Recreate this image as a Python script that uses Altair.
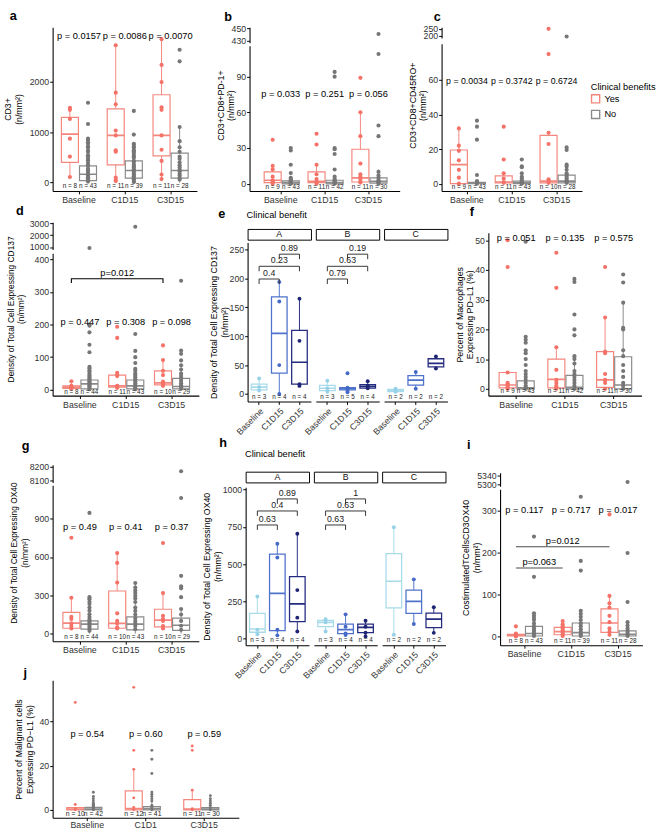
import altair as alt
import pandas as pd

FONT = "Liberation Sans"
LABC = "#333333"
RED_BOX = "#F4877D"
RED_PT = "#F57268"
GRAY_BOX = "#8A8A8A"
GRAY_PT = "#767676"
TIME_BOX = ["#A8DBEA", "#4F72CC", "#252C7F"]
TIME_PT = ["#95D2E7", "#4569C7", "#1E2574"]
NBSP = "\u00a0"
ZWSP = "\u200b"

TIMES = ["Baseline", "C1D15", "C3D15"]
TIMES_J = ["Baseline", "C1D1", "C3D15"]
FACETS = ["A", "B", "C"]

# stats rows: [q1, median, q3, whisker_low, whisker_high] per time point
# ---- a
A_YES_STATS = [[400, 960, 1290, 100, 1480], [350, 935, 1460, 30, 2720], [530, 935, 1740, 70, 2840]]
A_NO_STATS = [[40, 165, 330, 0, 800], [90, 240, 430, 0, 770], [90, 240, 585, 0, 1100]]
A_YES_PTS = [[1480, 1440, 1260, 870, 515, 110], [2720, 1780, 1550, 1030, 935, 640, 610, 100, 50, 30],
             [2840, 2330, 1990, 1490, 1440, 935, 650, 430, 160, 70]]
A_NO_PTS = [[1580, 1160, 870, 845, 800, 770, 715, 690, 630, 610, 545, 520, 470, 445, 390, 350, 330, 275, 240, 210, 165, 140, 105, 85, 45, 20],
            [1420, 950, 770, 745, 705, 690, 640, 615, 590, 545, 515, 490, 430, 410, 355, 330, 300, 265, 240, 215, 175, 150, 125, 85, 60, 30, 10],
            [2630, 2400, 1100, 820, 700, 610, 515, 470, 400, 345, 300, 255, 225, 175, 140, 95, 60]]
A_N_YES = [8, 11, 11]
A_N_NO = [43, 39, 28]
A_P = ["p = 0.0157", "p = 0.0086", "p = 0.0070"]

# ---- b
B_YES_STATS = [[1, 3, 10, 0, 15], [1, 2, 10, 0, 17], [1.5, 5, 29, 0, 60]]
B_NO_STATS = [[0, 1, 2.5, 0, 6], [0, 1, 3, 0, 7], [0.5, 2, 5, 0, 12]]
B_YES_PTS = [[37, 15, 12, 6, 3, 2, 1, 0], [42, 33, 16, 8, 4, 2, 1, 0], [89, 60, 40, 17, 8, 6, 4, 2, 1]]
B_NO_PTS = [[30, 28, 16, 9, 5, 4, 3, 2, 1, 0.5, 0], [94, 90, 30, 29, 25, 12, 6, 4, 3, 2, 1, 0],
            [441, 109, 49, 40, 10, 7, 5, 3, 2, 1, 0]]
B_N_YES = [9, 11, 11]
B_N_NO = [43, 42, 30]
B_P = ["p = 0.033", "p = 0.251", "p = 0.056"]

# ---- c
C_YES_STATS = [[0, 11, 19.5, 0, 32], [0.5, 1, 4.5, 0, 6], [0.5, 1.5, 28, 0, 29.5]]
C_NO_STATS = [[0, 0.3, 0.8, 0, 1.5], [0, 0.5, 1.5, 0, 3.5], [0.5, 1.5, 5, 0, 11]]
C_YES_PTS = [[32, 22, 19, 13.5, 8, 3.5, 0], [33, 14, 6, 3, 1, 0.5], [250, 75, 29.5, 23, 2.5, 1.5, 0.5]]
C_NO_PTS = [[36.5, 33, 25.5, 5, 1.5, 1, 0.5, 0], [14, 10, 9.5, 6, 4, 3, 2, 1, 0.5, 0],
            [195, 21, 19.5, 11, 10, 8, 6, 5, 4, 3, 2, 1, 0.5]]
C_N_YES = [9, 11, 10]
C_N_NO = [43, 43, 28]
C_P = ["p = 0.0034", "p = 0.3742", "p = 0.6724"]

# ---- d
D_YES_STATS = [[4, 8, 12, 3, 26], [8, 12, 45, 6, 52], [15, 21, 58, 12, 91]]
D_NO_STATS = [[3, 18, 30, 0, 70], [3, 12, 30, 0, 60], [3, 10, 35, 0, 75]]
D_YES_PTS = [[26, 12, 10, 8, 5, 3], [193, 159, 52, 45, 42, 12, 8, 6], [136, 91, 58, 45, 25, 20, 15, 12]]
D_NO_PTS = [[920, 200, 196, 176, 138, 115, 70, 66, 59, 55, 49, 44, 40, 35, 31, 26, 22, 18, 14, 10, 6, 2],
            [2720, 171, 119, 100, 82, 64, 58, 50, 44, 38, 32, 26, 20, 15, 10, 5, 2],
            [334, 120, 110, 90, 75, 62, 50, 42, 35, 28, 20, 14, 8, 3]]
D_N_YES = [8, 11, 10]
D_N_NO = [44, 43, 29]
D_P = ["p = 0.447", "p = 0.308", "p = 0.098"]
D_BRACKETS = [("Baseline", "C3D15", "p=0.012", 340)]

# ---- e (facets A, B, C)
E_STATS = [[[7, 12, 17, 6, 27], [36, 105, 168, 0, 194], [17, 55, 110, 14, 165]],
           [[6, 10, 15, 4, 23], [7, 9, 11, 3, 12], [10, 13, 16, 9, 22]],
           [[4, 6, 8, 3, 9], [15.5, 24, 31.7, 8, 38], [47, 53, 61, 44, 65]]]
E_PTS = [[[27, 12, 6], [194, 160, 50, 0], [165, 92, 17, 14]],
         [[23, 10, 4], [36, 11, 9, 5, 3], [22, 14, 12, 10]],
         [[9, 4], [38, 9], [65, 44]]]
E_N = [[3, 4, 4], [3, 5, 4], [2, 2, 2]]
E_BRACKETS = [[("Baseline", "C1D15", "0.4", 199), ("Baseline", "C3D15", "0.23", 221), ("C1D15", "C3D15", "0.89", 242)],
              [("Baseline", "C1D15", "0.79", 199), ("Baseline", "C3D15", "0.63", 221), ("C1D15", "C3D15", "0.19", 242)],
              []]

# ---- f
F_YES_STATS = [[0.3, 1.3, 5.5, 0, 5.5], [0.3, 3.2, 10, 0, 14], [0.5, 3, 12.5, 0, 24]]
F_NO_STATS = [[0, 0.3, 2.7, 0, 6], [0, 0.5, 4.5, 0, 11], [0, 1.3, 10.8, 0, 29]]
F_YES_PTS = [[50, 41, 5.5, 2, 1.5, 1, 0.5, 0], [45.8, 34, 14, 6.4, 3, 2, 1, 0.5, 0], [41, 24, 12.5, 12, 5, 3, 2, 0]]
F_NO_PTS = [[49.5, 17.5, 16.5, 15.5, 13, 12, 10, 8, 6, 5, 4, 3, 2, 1, 0.5, 0],
            [37, 36, 25, 20, 18, 11, 10, 8.5, 6, 5, 4, 3, 2, 1, 0],
            [38.5, 35.8, 29, 20.5, 20, 13, 11, 8, 6, 4, 2, 1, 0]]
F_N_YES = [9, 11, 11]
F_N_NO = [43, 42, 30]
F_P = ["p = 0.051", "p = 0.135", "p = 0.575"]

# ---- g
G_YES_STATS = [[42, 82, 167, 40, 281], [42, 80, 334, 40, 631], [53, 106, 191, 40, 318]]
G_NO_STATS = [[35, 75, 100, 0, 286], [30, 75, 132, 0, 397], [25, 66, 122, 0, 193]]
G_YES_PTS = [[751, 281, 132, 115, 80, 60, 40], [631, 554, 400, 159, 100, 80, 50, 40], [710, 318, 140, 115, 100, 60, 40]]
G_NO_PTS = [[946, 286, 270, 250, 232, 205, 180, 152, 130, 110, 96, 84, 70, 56, 40, 22],
            [397, 362, 338, 318, 296, 276, 248, 205, 178, 150, 122, 100, 80, 60, 35],
            [8168, 1063, 453, 371, 355, 286, 193, 150, 100, 62, 30]]
G_N_YES = [8, 10, 10]
G_N_NO = [44, 43, 29]
G_P = ["p = 0.49", "p = 0.41", "p = 0.37"]

# ---- h (facets A, B, C)
H_STATS = [[[43, 65, 170, 30, 283], [54, 304, 567, 22, 637], [115, 233, 417, 48, 704]],
           [[80, 109, 122, 48, 130], [33, 61, 98, 25, 163], [40, 76, 98, 15, 120]],
           [[207, 385, 570, 26, 748], [170, 250, 326, 98, 398], [74, 131, 172, 39, 211]]]
H_PTS = [[[283, 60, 30], [637, 545, 60, 22], [704, 326, 141, 48]],
         [[130, 110, 48], [163, 80, 35, 25], [120, 80, 40, 15]],
         [[748, 26], [398, 98], [211, 39]]]
H_N = [[3, 4, 4], [3, 4, 4], [2, 2, 2]]
H_BRACKETS = [[("Baseline", "C1D15", "0.63", 763), ("Baseline", "C3D15", "0.4", 857), ("C1D15", "C3D15", "0.89", 938)],
              [("Baseline", "C1D15", "0.63", 763), ("Baseline", "C3D15", "0.63", 857), ("C1D15", "C3D15", "1", 938)],
              []]

# ---- i
I_YES_STATS = [[2, 4, 6, 0, 9], [5, 12.5, 22.5, 0, 37.5], [10.8, 33, 66.7, 0, 97.5]]
I_NO_STATS = [[2, 8, 25, 0, 56], [2, 10, 33, 0, 62.5], [2, 6, 14, 0, 35]]
I_YES_PTS = [[25, 8, 5, 3, 2, 1], [37.5, 30, 25, 20, 15, 12, 10, 5, 2], [292, 97.5, 80, 70, 50, 35, 20, 12, 5]]
I_NO_PTS = [[239, 143, 56, 50, 45, 40, 32, 25, 20, 15, 10, 5, 2],
            [334, 181, 158, 62, 55, 48, 40, 32, 25, 18, 12, 6, 2],
            [5311, 200, 83, 35, 27, 20, 15, 10, 6, 2]]
I_N_YES = [8, 11, 11]
I_N_NO = [43, 39, 28]
I_P = ["p = 0.117", "p = 0.717", "p = 0.017"]
I_BRACKETS = [("Baseline", "C1D15", "p=0.063", 164), ("Baseline", "C3D15", "p=0.012", 215)]

# ---- j
J_YES_STATS = [[0, 0.3, 1, 0, 1], [0, 0.5, 8.6, 0, 18.3], [0, 0.3, 4.6, 0, 8.9]]
J_NO_STATS = [[0, 0.3, 1.1, 0, 2.7], [0, 0.5, 1.4, 0, 3.5], [0, 0.3, 1, 0, 2.5]]
J_YES_PTS = [[48.6, 2.4, 0.5, 0], [55.4, 26.9, 18.3, 5.4, 1, 0], [28.9, 26.9, 8.9, 0.5, 0]]
J_NO_PTS = [[7.9, 6, 5, 4, 3, 2.5, 2, 1.5, 1, 0.5, 0], [26.9, 22.9, 16.4, 8, 7, 6, 5, 4, 2, 1, 0],
            [6.4, 5, 4, 3, 2, 1, 0]]
J_N_YES = [10, 12, 11]
J_N_NO = [42, 41, 30]
J_P = ["p = 0.54", "p = 0.60", "p = 0.59"]


def xscale(times, width, step, band):
    pi = 1 - band / step
    po = (width / step - len(times) + pi) / 2
    return alt.Scale(domain=times, paddingInner=pi, paddingOuter=max(po, 0))


def yaxis(ticks, title_y=None, title_fs=9, title_pad=0):
    kw = dict(values=ticks, format="d", grid=False, domainColor="black", domainWidth=1.1, tickColor="black",
              tickSize=3, tickWidth=1, labelColor=LABC, labelFontSize=9, labelPadding=1,
              titleFontSize=title_fs, titleFontWeight="normal", titleColor="black", titlePadding=title_pad)
    if title_y is not None:
        kw["titleY"] = title_y
    return alt.Axis(**kw)


def xaxis(angle=0, fs=9, label_pad=2):
    kw = dict(grid=False, domainColor="black", domainWidth=1.1, tickColor="black", tickSize=3,
              labelColor=LABC, labelFontSize=fs, labelPadding=label_pad)
    if angle:
        kw.update(labelAngle=angle, labelAlign="right", labelBaseline="top")
    else:
        kw.update(labelAngle=0)
    return alt.Axis(**kw)


def ptitle(letter, offset, dx):
    return alt.TitleParams(letter, anchor="start", fontSize=13, fontWeight="bold", offset=offset, dx=dx,
                           color="black")


def spacer(width, height):
    return alt.Chart(pd.DataFrame({"s": [0]})).mark_point(opacity=0).encode(
        opacity=alt.value(0)).properties(width=width, height=height)


def bracket_frames(brs, times, drop):
    lines, texts = [], []
    for k, (t1, t2, lab, y) in enumerate(brs):
        seq = [(t1, y - drop), (t1, y), (t2, y), (t2, y - drop)] if drop else [(t1, y), (t2, y)]
        for o, (t, yy) in enumerate(seq):
            lines.append(dict(bid=k, ord=o, time=t, y=yy, group="Yes"))
        i1, i2 = times.index(t1), times.index(t2)
        if (i1 + i2) % 2 == 0:
            texts.append(dict(time=times[(i1 + i2) // 2], lab=lab, y=y, half=0, group="Yes"))
        else:
            texts.append(dict(time=times[i1], lab=lab, y=y, half=1, group="Yes"))
    return pd.DataFrame(lines), pd.DataFrame(texts)


def group_panel(times, ystats, nstats, ypts, npts, nyes, nno, width, height, step, band, ydom, yticks,
                ytitle, plabs, plab_y, top=None, brackets=None, drop=0, legend=None, title_y=None,
                ptsize=18, nsize=6.5, psize=9.5, title_fs=9, bline_col="black", title_pad=0, xlab_pad=2):
    ny = ydom[0] + 0.028 * (ydom[1] - ydom[0])
    brows = []
    for grp, stats, ns, col in (("Yes", ystats, nyes, RED_BOX), ("No", nstats, nno, GRAY_BOX)):
        for t, s, n in zip(times, stats, ns):
            brows.append(dict(time=t, group=grp, q1=s[0], med=s[1], q3=s[2], lo=s[3], hi=s[4],
                              nlab=f"n = {n}", ny=ny, bcol=col))
    box = pd.DataFrame(brows)
    prows = []
    for grp, pts_, col in (("Yes", ypts, RED_PT), ("No", npts, GRAY_PT)):
        for t, vals in zip(times, pts_):
            for v in vals:
                prows.append(dict(time=t, group=grp, value=v, pcol=col))
    pts = pd.DataFrame(prows)
    xs = xscale(times, width, step, band)
    X = alt.X("time:N", scale=xs, axis=xaxis(label_pad=xlab_pad), title=None, sort=times)
    XO = alt.XOffset("group:N", scale=alt.Scale(domain=["Yes", "No"], paddingInner=0.06, paddingOuter=0),
                     sort=["Yes", "No"])
    ysc = alt.Scale(domain=ydom, nice=False, zero=False)
    yax = yaxis(yticks, title_y, title_fs, title_pad)

    def Y(f):
        return alt.Y(f, scale=ysc, axis=yax, title=ytitle)

    if legend is not None:
        stroke = alt.Stroke("group:N", scale=alt.Scale(domain=["Yes", "No"], range=[RED_BOX, GRAY_BOX]),
                            legend=legend)
    else:
        stroke = alt.Stroke("bcol:N", scale=None)
    bc = alt.Chart(box)
    layers = [
        bc.mark_rule(strokeWidth=1).encode(x=X, xOffset=XO, y=Y("lo:Q"), y2="hi:Q",
                                           color=alt.Color("bcol:N", scale=None)),
        bc.mark_bar(fill="white", strokeWidth=1.2).encode(x=X, xOffset=XO, y=Y("q1:Q"), y2="q3:Q", stroke=stroke),
        bc.mark_bar(fillOpacity=0, strokeWidth=1.7).encode(x=X, xOffset=XO, y=Y("med:Q"), y2="med:Q",
                                                           stroke=stroke),
        alt.Chart(pts[pts.value <= ydom[1]]).mark_circle(size=ptsize, opacity=1).encode(
            x=X, xOffset=XO, y=Y("value:Q"), color=alt.Color("pcol:N", scale=None)),
        bc.mark_text(fontSize=nsize, color="#222222", baseline="middle").encode(
            x=X, xOffset=XO, y=Y("ny:Q"), text="nlab:N"),
    ]
    pdf = pd.DataFrame(dict(time=times, lab=plabs, y=[plab_y] * len(times)))
    layers.append(alt.Chart(pdf).mark_text(fontSize=psize, color="black").encode(x=X, y=Y("y:Q"), text="lab:N"))
    if brackets:
        ldf, tdf = bracket_frames(brackets, times, drop)
        layers.append(alt.Chart(ldf).mark_line(color=bline_col, strokeWidth=1.1).encode(
            x=X, xOffset=XO, y=Y("y:Q"), detail="bid:N", order="ord:Q"))
        for half in (0, 1):
            sub = tdf[tdf.half == half]
            if len(sub):
                layers.append(alt.Chart(sub).mark_text(fontSize=psize, color="black", baseline="bottom", dy=-1,
                                                       dx=step / 2 * half).encode(
                    x=X, xOffset=XO, y=Y("y:Q"), text="lab:N"))
    main = alt.layer(*layers).properties(width=width, height=height)
    if top is None:
        return main
    tdom = top["ydom"]
    tp = pts[pts.value >= tdom[0]]
    tch = alt.Chart(tp).mark_circle(size=ptsize, opacity=1).encode(
        x=alt.X("time:N", scale=xs, axis=None, title=None, sort=times), xOffset=XO,
        y=alt.Y("value:Q", scale=alt.Scale(domain=tdom, nice=False, zero=False), axis=yaxis(top["ticks"]),
                title=None),
        color=alt.Color("pcol:N", scale=None)).properties(width=width, height=top["height"])
    return alt.vconcat(tch, main, spacing=top["spacing"], bounds="flush")


def facet_plot(times, stats, pts_list, ns, brackets, width, height, step, band, ydom, yticks, ytitle,
               show_y, drop, title_fs=9, ptsize=16):
    ny = ydom[0] + 0.03 * (ydom[1] - ydom[0])
    box = pd.DataFrame([dict(time=t, q1=s[0], med=s[1], q3=s[2], lo=s[3], hi=s[4], nlab=f"n = {n}", ny=ny,
                             bcol=TIME_BOX[i]) for i, (t, s, n) in enumerate(zip(times, stats, ns))])
    pts = pd.DataFrame([dict(time=t, value=v, pcol=TIME_PT[i]) for i, (t, vals) in
                        enumerate(zip(times, pts_list)) for v in vals])
    X = alt.X("time:N", scale=xscale(times, width, step, band), axis=xaxis(315, 9), title=None, sort=times)
    ysc = alt.Scale(domain=ydom, nice=False, zero=False)
    yax = yaxis(yticks, None, title_fs) if show_y else None

    def Y(f):
        if show_y:
            return alt.Y(f, scale=ysc, axis=yax, title=ytitle)
        return alt.Y(f, scale=ysc, axis=None, title=None)

    bc = alt.Chart(box)
    layers = [
        bc.mark_rule(strokeWidth=1).encode(x=X, y=Y("lo:Q"), y2="hi:Q", color=alt.Color("bcol:N", scale=None)),
        bc.mark_bar(fill="white", strokeWidth=1.3).encode(x=X, y=Y("q1:Q"), y2="q3:Q",
                                                          stroke=alt.Stroke("bcol:N", scale=None)),
        bc.mark_bar(fillOpacity=0, strokeWidth=1.7).encode(x=X, y=Y("med:Q"), y2="med:Q",
                                                           stroke=alt.Stroke("bcol:N", scale=None)),
        alt.Chart(pts).mark_circle(size=ptsize, opacity=1).encode(x=X, y=Y("value:Q"),
                                                                   color=alt.Color("pcol:N", scale=None)),
        bc.mark_text(fontSize=6.5, color="#222222", baseline="middle").encode(x=X, y=Y("ny:Q"), text="nlab:N"),
    ]
    if brackets:
        ldf, tdf = bracket_frames(brackets, times, drop)
        layers.append(alt.Chart(ldf).mark_line(color="#333333", strokeWidth=1).encode(
            x=X, y=Y("y:Q"), detail="bid:N", order="ord:Q"))
        for half in (0, 1):
            sub = tdf[tdf.half == half]
            if len(sub):
                layers.append(alt.Chart(sub).mark_text(fontSize=9, color="#222222", baseline="bottom", dy=-1,
                                                       dx=step / 2 * half).encode(x=X, y=Y("y:Q"), text="lab:N"))
    return alt.layer(*layers).properties(width=width, height=height)


def strip_chart(fac, width):
    return alt.Chart(pd.DataFrame({"f": [fac]})).mark_text(fontSize=9, color="#111111").encode(
        text="f:N").properties(width=width, height=11,
                               view=alt.ViewBackground(stroke="black", strokeWidth=1, fill="white"))


def facet_panel(letter, stats, pts, ns, brackets, width, height, step, ydom, yticks, ytitle, drop, dx,
                nb, offset, top_space=0, sub_pad=-11):
    strips = [strip_chart(fac, width) for fac in FACETS]
    plots = [facet_plot(TIMES, stats[k], pts[k], ns[k], brackets[k], width, height, step, 16, ydom, yticks,
                        ytitle, k == 0, drop) for k in range(len(FACETS))]
    rows = []
    if top_space:
        rows.append(spacer(width, top_space))
    rows += [alt.hconcat(*strips, spacing=5, bounds="flush"), alt.hconcat(*plots, spacing=5, bounds="flush")]
    body = alt.vconcat(*rows, spacing=2)
    return body.properties(
        title=alt.TitleParams(letter, subtitle=ZWSP + NBSP * nb + "Clinical benefit", anchor="start",
                              fontSize=13, fontWeight="bold", color="black", subtitleFontSize=9.5,
                              subtitleColor="black", subtitlePadding=sub_pad, offset=offset, dx=dx))


# ---------------- row 1
a = group_panel(TIMES, A_YES_STATS, A_NO_STATS, A_YES_PTS, A_NO_PTS, A_N_YES, A_N_NO, 148, 168, 47, 36,
                [-165, 3077], [0, 1000, 2000], ["CD3+", "(n/mm²)"], A_P, 2900, title_pad=6).properties(
    title=ptitle("a", 4, 6))

b = group_panel(TIMES, B_YES_STATS, B_NO_STATS, B_YES_PTS, B_NO_PTS, B_N_YES, B_N_NO, 154, 149, 45, 34,
                [-6, 116], [0, 30, 60, 90], ["CD3+CD8+PD-1+", "(n/mm²)"], B_P, 75,
                top=dict(height=16, ydom=[427, 452], ticks=[430, 450], spacing=3), title_y=61).properties(
    title=ptitle("b", 1, 8))

leg = alt.Legend(title="Clinical benefits", orient="none", legendX=153, legendY=39, symbolType="square",
                 symbolFillColor="white", symbolStrokeWidth=1.4, symbolSize=70, titleFontSize=9.5,
                 titleFontWeight="normal", titleColor="black", labelFontSize=9.5, labelColor="black",
                 titlePadding=3, rowPadding=2)
c = group_panel(TIMES, C_YES_STATS, C_NO_STATS, C_YES_PTS, C_NO_PTS, C_N_YES, C_N_NO, 144, 151, 46, 34,
                [-4.2, 81], [0, 20, 40, 60], ["CD3+CD8+CD45RO+", "(n/mm²)"], C_P, 59.5,
                top=dict(height=11, ydom=[185, 262], ticks=[200, 250], spacing=6), legend=leg,
                title_y=63, psize=9).resolve_scale(stroke="independent").properties(title=ptitle("c", 1, 26))

row1 = alt.hconcat(alt.hconcat(a, b, spacing=19), c, spacing=8)

# ---------------- row 2
d = group_panel(TIMES, D_YES_STATS, D_NO_STATS, D_YES_PTS, D_NO_PTS, D_N_YES, D_N_NO, 150, 146, 47, 35,
                [-18, 418], [0, 100, 200, 300, 400], ["Density of Total Cell Expressing CD137", "(n/mm²)"],
                D_P, 207, top=dict(height=28, ydom=[800, 3110], ticks=[1000, 2000, 3000], spacing=4),
                brackets=D_BRACKETS, drop=13, title_y=57, title_fs=8.6, title_pad=9).properties(
    title=ptitle("d", 2, 10))

e = facet_panel("e", E_STATS, E_PTS, E_N, E_BRACKETS, 65, 163, 20.7, [-13, 262], [0, 50, 100, 150, 200, 250],
                ["Density of Total Cell Expressing CD137", "(n/mm²)"], 8.6, 9, 11, 0, top_space=2)

f_core = group_panel(TIMES, F_YES_STATS, F_NO_STATS, F_YES_PTS, F_NO_PTS, F_N_YES, F_N_NO, 157, 167, 50, 35,
                     [-2.3, 52.5], [0, 10, 20, 30, 40, 50], ["Percent of Macrophages", "Expressing PD−L1 (%)"],
                     F_P, 50.8)
f = alt.vconcat(spacer(157, 11), f_core, spacing=0, bounds="flush").properties(title=ptitle("f", 3, 15))

row2 = alt.hconcat(alt.hconcat(d, e, spacing=10), f, spacing=6)

# ---------------- row 3
g = group_panel(TIMES, G_YES_STATS, G_NO_STATS, G_YES_PTS, G_NO_PTS, G_N_YES, G_N_NO, 150, 160, 47, 35,
                [-60, 1162], [0, 300, 600, 900], ["Density of Total Cell Expressing OX40", "(n/mm²)"],
                G_P, 838, top=dict(height=18, ydom=[8085, 8215], ticks=[8100, 8200], spacing=3),
                title_y=69, title_fs=8.6, title_pad=5).properties(title=ptitle("g", 10, 12))

h = facet_panel("h", H_STATS, H_PTS, H_N, H_BRACKETS, 65, 162, 20.5, [-44, 1016], [0, 250, 500, 750, 1000],
                ["Density of Total Cell Expressing OX40", "(n/mm²)"], 33, 17, 10, 4, top_space=1, sub_pad=0)

i_core = group_panel(TIMES, I_YES_STATS, I_NO_STATS, I_YES_PTS, I_NO_PTS, I_N_YES, I_N_NO, 146, 160, 48, 35,
                     [-20, 352], [0, 100, 200, 300], ["CostimulatedTCellsCD3OX40", "(n/mm²)"], I_P, 303,
                     top=dict(height=14, ydom=[5292, 5352], ticks=[5300, 5340], spacing=3),
                     brackets=I_BRACKETS, drop=0, title_y=70, bline_col="#4d4d4d")
i = alt.vconcat(spacer(146, 8), i_core, spacing=0, bounds="flush").properties(title=ptitle("i", 13, 5))

row3 = alt.hconcat(alt.hconcat(g, h, spacing=3), i, spacing=15)

# ---------------- row 4
j = group_panel(TIMES_J, J_YES_STATS, J_NO_STATS, J_YES_PTS, J_NO_PTS, J_N_YES, J_N_NO, 191, 141, 60, 42,
                [-3.6, 58.6], [0, 20, 40], ["Percent of Malignant cells", "Expressing PD−L1 (%)"], J_P, 34.3,
                ptsize=9, nsize=7, title_pad=5, xlab_pad=0).properties(title=ptitle("j", 0, 9))

chart = alt.vconcat(
    alt.vconcat(row1, row2, spacing=0),
    alt.vconcat(row3, j, spacing=-14),
    spacing=0,
).properties(padding={"left": 3, "top": 0, "right": 2, "bottom": 2}).configure(
    font=FONT).configure_view(strokeWidth=0)

chart.save("out.html", embed_options={"renderer": "svg", "actions": False})
